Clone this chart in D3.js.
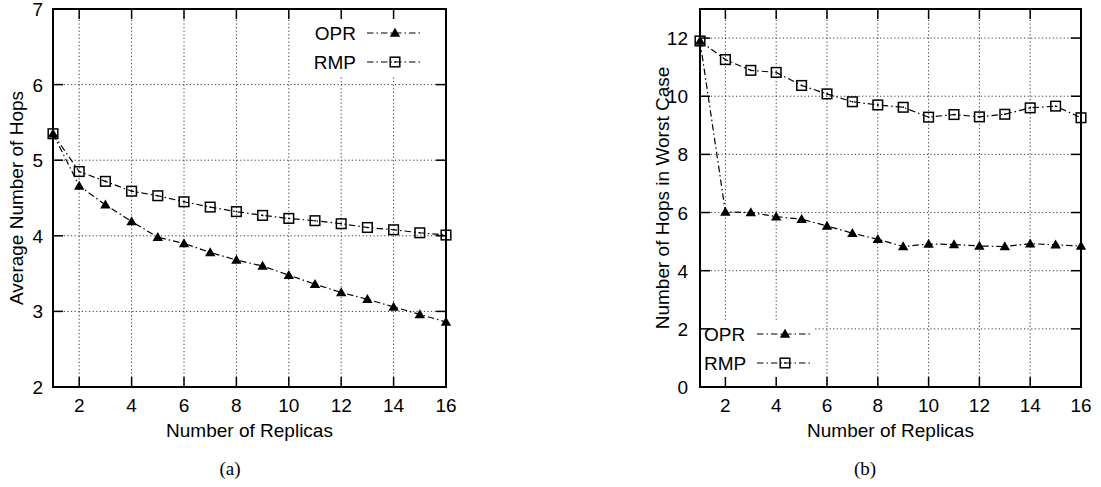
<!DOCTYPE html>
<html>
<head>
<meta charset="utf-8">
<script src="https://cdn.jsdelivr.net/npm/d3@7"></script>
<style>
  body { margin: 0; background: #fff; }
  svg { display: block; font-family: "Liberation Sans", Arial, sans-serif; }
</style>
</head>
<body>
<svg id="chart" width="1101" height="487"></svg>
<script>
// x categories shared by both panels
const replicas = [1, 2, 3, 4, 5, 6, 7, 8, 9, 10, 11, 12, 13, 14, 15, 16];

// panel (a): average number of hops
const oprAvg = [5.35, 4.66, 4.41, 4.19, 3.98, 3.90, 3.78, 3.68, 3.60, 3.48, 3.36, 3.25, 3.16, 3.06, 2.96, 2.86];
const rmpAvg = [5.35, 4.85, 4.72, 4.59, 4.53, 4.45, 4.38, 4.32, 4.27, 4.23, 4.20, 4.16, 4.11, 4.08, 4.04, 4.01];

// panel (b): number of hops in worst case
const oprWorst = [11.9, 6.02, 6.00, 5.86, 5.77, 5.54, 5.29, 5.08, 4.83, 4.92, 4.90, 4.85, 4.83, 4.93, 4.89, 4.85];
const rmpWorst = [11.9, 11.26, 10.89, 10.82, 10.37, 10.08, 9.81, 9.70, 9.62, 9.28, 9.37, 9.29, 9.38, 9.60, 9.66, 9.26];

const xTicks = [2, 4, 6, 8, 10, 12, 14, 16];
const yTicksA = [2, 3, 4, 5, 6, 7];
const yTicksB = [0, 2, 4, 6, 8, 10, 12];
const seriesNames = ["OPR", "RMP"];

const svg = d3.select("#chart");
const dashDot = "6.5,3,1.5,3";
const fs = 19;

function marker(g, type, x, y) {
  if (type === "tri") {
    g.append("path")
      .attr("d", `M${x},${y - 5.2}L${x + 5.2},${y + 3.8}L${x - 5.2},${y + 3.8}Z`)
      .attr("fill", "#000");
  } else {
    g.append("rect")
      .attr("x", x - 4.8).attr("y", y - 4.8)
      .attr("width", 9.6).attr("height", 9.6)
      .attr("fill", "none").attr("stroke", "#000").attr("stroke-width", 1.5);
    g.append("rect")
      .attr("x", x - 0.8).attr("y", y - 0.8)
      .attr("width", 1.6).attr("height", 1.6)
      .attr("fill", "#000");
  }
}

function drawPanel(opt) {
  const g = svg.append("g");
  const x = d3.scaleLinear().domain([1, 16]).range([opt.left, opt.right]);
  const y = d3.scaleLinear().domain(opt.yDomain).range([opt.bottom, opt.top]);
  const innerY = opt.yTicks.filter(d => d > opt.yDomain[0] && d < opt.yDomain[1]);
  const innerX = xTicks.filter(d => d < 16);

  // grid
  g.selectAll(".gx").data(innerX).join("line")
    .attr("x1", d => x(d)).attr("x2", d => x(d))
    .attr("y1", opt.top).attr("y2", opt.bottom)
    .attr("stroke", "#222").attr("stroke-width", 0.9).attr("stroke-dasharray", "1.2,2.4");
  g.selectAll(".gy").data(innerY).join("line")
    .attr("x1", opt.left).attr("x2", opt.right)
    .attr("y1", d => y(d)).attr("y2", d => y(d))
    .attr("stroke", "#222").attr("stroke-width", 0.9).attr("stroke-dasharray", "1.2,2.4");

  // opaque key box
  const k = opt.key;
  g.append("rect").attr("x", k.x0).attr("y", k.y0)
    .attr("width", k.x1 - k.x0).attr("height", k.y1 - k.y0).attr("fill", "#fff");

  // series
  const line = d3.line().x((d, i) => x(replicas[i])).y(d => y(d));
  opt.series.forEach(s => {
    g.append("path").datum(s.values)
      .attr("d", line)
      .attr("fill", "none").attr("stroke", "#000").attr("stroke-width", 1.2)
      .attr("stroke-dasharray", dashDot);
    s.values.forEach((v, i) => marker(g, s.type, x(replicas[i]), y(v)));
  });

  // key entries
  opt.series.forEach((s, i) => {
    const cy = k.rowY[i];
    g.append("text").attr("x", k.textX).attr("y", cy + 6.8)
      .attr("text-anchor", k.anchor).attr("font-size", fs).text(s.name);
    g.append("line").attr("x1", k.lx0).attr("x2", k.lx1).attr("y1", cy).attr("y2", cy)
      .attr("stroke", "#000").attr("stroke-width", 1.2).attr("stroke-dasharray", dashDot);
    marker(g, s.type, (k.lx0 + k.lx1) / 2, cy);
  });

  // border
  g.append("rect").attr("x", opt.left).attr("y", opt.top)
    .attr("width", opt.right - opt.left).attr("height", opt.bottom - opt.top)
    .attr("fill", "none").attr("stroke", "#000").attr("stroke-width", 2);

  // inward ticks on all four sides
  const tl = 10;
  innerX.forEach(d => {
    g.append("line").attr("x1", x(d)).attr("x2", x(d)).attr("y1", opt.bottom).attr("y2", opt.bottom - tl)
      .attr("stroke", "#000").attr("stroke-width", 1.5);
    g.append("line").attr("x1", x(d)).attr("x2", x(d)).attr("y1", opt.top).attr("y2", opt.top + tl)
      .attr("stroke", "#000").attr("stroke-width", 1.5);
  });
  innerY.forEach(d => {
    g.append("line").attr("x1", opt.left).attr("x2", opt.left + tl).attr("y1", y(d)).attr("y2", y(d))
      .attr("stroke", "#000").attr("stroke-width", 1.5);
    g.append("line").attr("x1", opt.right).attr("x2", opt.right - tl).attr("y1", y(d)).attr("y2", y(d))
      .attr("stroke", "#000").attr("stroke-width", 1.5);
  });

  // tick labels
  g.selectAll(".xl").data(xTicks).join("text")
    .attr("x", d => x(d)).attr("y", opt.bottom + 24.5)
    .attr("text-anchor", "middle").attr("font-size", fs).text(d => d);
  g.selectAll(".yl").data(opt.yTicks).join("text")
    .attr("x", opt.left - opt.yLabelGap).attr("y", d => y(d) + 7)
    .attr("text-anchor", "end").attr("font-size", fs).text(d => d);

  // axis titles
  g.append("text").attr("x", (opt.left + opt.right) / 2).attr("y", opt.bottom + 50)
    .attr("text-anchor", "middle").attr("font-size", fs).text("Number of Replicas");
  g.append("text")
    .attr("transform", `translate(${opt.yTitleX},${(opt.top + opt.bottom) / 2}) rotate(-90)`)
    .attr("text-anchor", "middle").attr("font-size", fs).text(opt.yTitle);

  // caption
  g.append("text").attr("x", opt.captionX).attr("y", 475)
    .attr("text-anchor", "middle").attr("font-family", "'Liberation Serif', 'Times New Roman', serif")
    .attr("font-size", 19).text(opt.caption);
}

drawPanel({
  left: 53, right: 446, top: 9, bottom: 387,
  yDomain: [2, 7], yTicks: yTicksA, yLabelGap: 10,
  yTitle: "Average Number of Hops", yTitleX: 23,
  caption: "(a)", captionX: 230,
  series: [
    { name: seriesNames[0], values: oprAvg, type: "tri" },
    { name: seriesNames[1], values: rmpAvg, type: "sq" }
  ],
  key: { x0: 300, x1: 446, y0: 9, y1: 76, rowY: [33, 62], textX: 356, anchor: "end", lx0: 367, lx1: 423 }
});

drawPanel({
  left: 700, right: 1081, top: 9, bottom: 387,
  yDomain: [0, 13], yTicks: yTicksB, yLabelGap: 12,
  yTitle: "Number of Hops in Worst Case", yTitleX: 669,
  caption: "(b)", captionX: 865,
  series: [
    { name: seriesNames[0], values: oprWorst, type: "tri" },
    { name: seriesNames[1], values: rmpWorst, type: "sq" }
  ],
  key: { x0: 700, x1: 815, y0: 320, y1: 387, rowY: [334, 363], textX: 704, anchor: "start", lx0: 757, lx1: 813 }
});
</script>
</body>
</html>
